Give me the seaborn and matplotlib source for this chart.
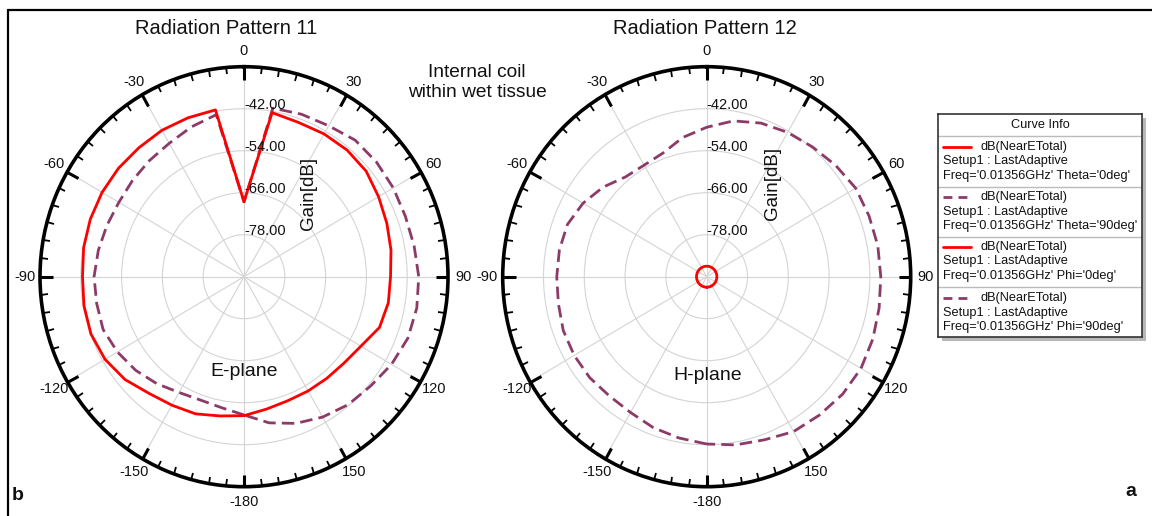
import numpy as np
import matplotlib
matplotlib.use("Agg")
import matplotlib.pyplot as plt
import seaborn as sns
from matplotlib.lines import Line2D
from matplotlib.patches import Rectangle

# angles in degrees (0 = top, clockwise), gains in dB
ANGLES = [-180, -170, -160, -150, -140, -130, -120, -110, -100, -90, -80, -70, -60, -50, -40, -30, -20, -10,
          0, 10, 20, 30, 40, 50, 60, 70, 80, 90, 100, 110, 120, 130, 140, 150, 160, 170, 180]

# Radiation Pattern 11 (E-plane)
E_THETA0 = [-50.3, -49.6, -48.3, -47.6, -46.5, -44.3, -42.8, -42.1, -42.2, -42.5, -42.1, -41.9, -41.8, -41.8,
            -41.9, -41.7, -41.7, -41.6, -68.6, -42.4, -43.1, -42.9, -42.8, -43.1, -44.3, -45.3, -46.1, -46.9,
            -46.9, -47.6, -50.3, -51.6, -52.1, -52.3, -52.3, -51.6, -50.3]
E_THETA90 = [-50.5, -52.0, -52.5, -51.8, -50.1, -48.4, -47.0, -45.9, -46.0, -45.9, -46.5, -47.1, -47.5, -47.2,
             -46.7, -46.0, -44.5, -43.0, -68.6, -41.1, -40.6, -40.2, -39.1, -39.1, -39.3, -39.5, -39.2, -38.6,
             -38.4, -38.7, -39.9, -41.4, -42.3, -43.7, -45.4, -47.6, -50.5]

# Radiation Pattern 12 (H-plane)
H_PHI0 = [-87.0] * len(ANGLES)
H_PHI90 = [-42.2, -43.2, -44.1, -45.2, -45.5, -45.1, -45.0, -45.1, -45.7, -45.9, -46.0, -46.4, -48.0, -50.2,
           -52.8, -53.2, -52.4, -49.6, -47.3, -44.8, -43.3, -42.4, -41.6, -40.5, -39.4, -39.2, -38.9, -38.8,
           -38.5, -38.0, -37.6, -37.8, -38.4, -38.9, -40.4, -41.2, -42.2]

R_TICKS = [-78, -66, -54, -42]
THETA_TICKS = [0, 30, 60, 90, 120, 150, 180, 210, 240, 270, 300, 330]
THETA_LABELS = ['0', '30', '60', '90', '120', '150', '-180', '-150', '-120', '-90', '-60', '-30']

LEGEND_NAMES = ["Theta='0deg'", "Theta='90deg'", "Phi='0deg'", "Phi='90deg'"]

RED = '#ff0000'
PURPLE = '#8c3b68'
DASH = (0, (4.5, 2.2))
TXT = '#111111'

sns.set_theme(style="white")
plt.rcParams['font.family'] = ['Liberation Sans', 'DejaVu Sans']

W, H = 1152, 516
fig = plt.figure(figsize=(W / 100, H / 100), dpi=100)


def px_axes(x0, y0, x1, y1, **kw):
    return fig.add_axes([x0 / W, 1 - y1 / H, (x1 - x0) / W, (y1 - y0) / H], **kw)


def setup_polar(ax):
    ax.set_aspect('auto')
    ax.set_theta_zero_location('N')
    ax.set_theta_direction(-1)
    ax.set_ylim(-90, -30)
    ax.set_yticks(R_TICKS)
    ax.set_yticklabels([])
    ax.set_xticks(np.deg2rad(THETA_TICKS))
    ax.set_xticklabels(THETA_LABELS, fontsize=10.5, color=TXT)
    ax.set_xticks(np.deg2rad(np.arange(0, 360, 5)), minor=True)
    ax.tick_params(axis='x', which='both', bottom=False, top=True)
    ax.tick_params(axis='x', which='major', direction='in', length=9, width=2.2, color='black', pad=4)
    ax.tick_params(axis='x', which='minor', direction='in', length=5, width=1.3, color='black')
    ax.grid(True, color='#d4d4d4', linewidth=0.8)
    ax.spines['polar'].set_linewidth(2.6)
    ax.spines['polar'].set_color('black')
    ax.set_facecolor('white')
    for r in R_TICKS:
        ax.annotate(f"{r:.2f}", (0, r), xytext=(0, 3), textcoords='offset points',
                    ha='left', va='center', fontsize=10.5, color=TXT)


def draw(ax, vals, color, style):
    sns.lineplot(x=np.deg2rad(ANGLES), y=vals, ax=ax, sort=False, color=color,
                 linewidth=2.0, linestyle=style, estimator=None)


ax1 = px_axes(40, 66.7, 448, 486.7, projection='polar')
ax2 = px_axes(502.7, 66.7, 910.7, 486.7, projection='polar')
for ax in (ax1, ax2):
    setup_polar(ax)

draw(ax1, E_THETA90, PURPLE, DASH)
draw(ax1, E_THETA0, RED, '-')
draw(ax2, H_PHI90, PURPLE, DASH)
draw(ax2, H_PHI0, RED, '-')

for ax in (ax1, ax2):
    ax.set_ylim(-90, -30)
    ax.set_xlabel('')
    ax.set_ylabel('')

# texts
fig.text(226 / W, 1 - 28 / H, "Radiation Pattern 11", ha='center', va='center', fontsize=14.5, color=TXT)
fig.text(705 / W, 1 - 28 / H, "Radiation Pattern 12", ha='center', va='center', fontsize=14.5, color=TXT)
fig.text(309 / W, 1 - 193 / H, "Gain[dB]", rotation=90, ha='center', va='center', fontsize=13.5, color=TXT)
fig.text(773 / W, 1 - 183 / H, "Gain[dB]", rotation=90, ha='center', va='center', fontsize=13.5, color=TXT)
fig.text(477 / W, 1 - 82.5 / H, "Internal coil\nwithin wet tissue", ha='center', va='center',
         fontsize=13.8, linespacing=1.2, color=TXT)
fig.text(244 / W, 1 - 372 / H, "E-plane", ha='center', va='center', fontsize=14, color=TXT)
fig.text(708 / W, 1 - 376 / H, "H-plane", ha='center', va='center', fontsize=14, color=TXT)
fig.text(18 / W, 1 - 496 / H, "b", ha='center', va='center', fontsize=14, fontweight='bold', color=TXT)
fig.text(1131 / W, 1 - 492 / H, "a", ha='center', va='center', fontsize=14, fontweight='bold', color=TXT)

# frame lines (top and left)
fig.add_artist(Line2D([8 / W, 1.0], [1 - 10 / H, 1 - 10 / H], color='black', linewidth=1.6))
fig.add_artist(Line2D([8 / W, 8 / W], [1 - 10 / H, 0], color='black', linewidth=1.6))

# Curve Info box
lx0, ly0, lx1, ly1 = 938, 114, 1142, 337
fig.add_artist(Rectangle((lx0 / W + 4 / W, 1 - (ly1 + 4) / H), (lx1 - lx0) / W, (ly1 - ly0) / H,
                         facecolor='#b8b8b8', edgecolor='none', zorder=1))
leg = px_axes(lx0, ly0, lx1, ly1)
leg.set_zorder(2)
leg.set_xlim(lx0, lx1)
leg.set_ylim(ly1, ly0)
leg.set_xticks([])
leg.set_yticks([])
leg.set_facecolor('white')
for s in leg.spines.values():
    s.set_color('#333333')
    s.set_linewidth(1.2)
LFS = 9.2
leg.text((lx0 + lx1) / 2, 125, "Curve Info", ha='center', va='center', fontsize=LFS, color=TXT)
leg.axhline(135.5, color='#bbbbbb', linewidth=1)
tops = [146.5, 197.3, 246.7, 298.3]
colors = [RED, PURPLE, RED, PURPLE]
styles = ['-', (0, (3.2, 2.2)), '-', (0, (3.2, 2.2))]
for i, (y, name) in enumerate(zip(tops, LEGEND_NAMES)):
    leg.plot([943, 971], [y, y], color=colors[i], linestyle=styles[i], linewidth=2.0)
    leg.text(980, y, "dB(NearETotal)", ha='left', va='center', fontsize=LFS, color=TXT)
    leg.text(943, y + 14.5, "Setup1 : LastAdaptive", ha='left', va='center', fontsize=LFS, color=TXT)
    leg.text(943, y + 29, f"Freq='0.01356GHz' {name}", ha='left', va='center', fontsize=LFS, color=TXT)
    if i < 3:
        leg.axhline(y + 40, color='#bbbbbb', linewidth=1)

fig.savefig("out.png", dpi=100, facecolor='white')
